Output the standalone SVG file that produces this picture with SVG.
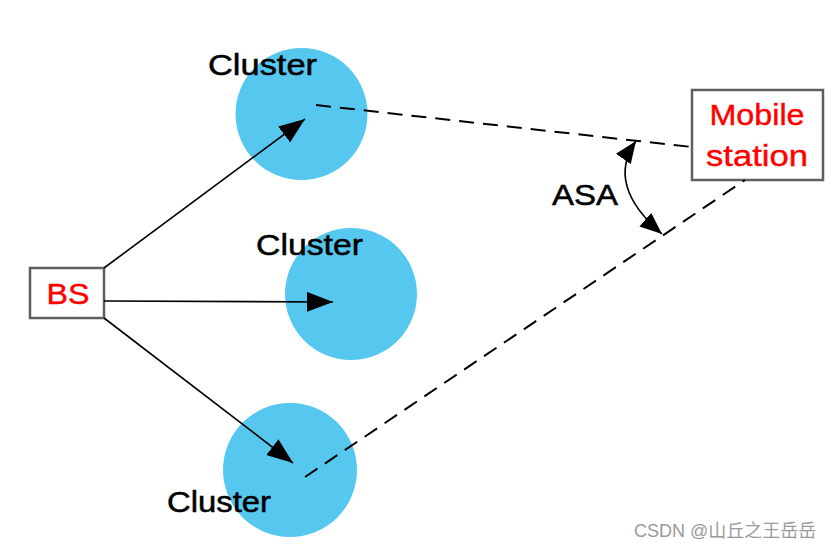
<svg xmlns="http://www.w3.org/2000/svg" width="839" height="550" viewBox="0 0 839 550">
<defs>
<style>
.cl{fill:#56C8F0}
.lbl{font-family:"Liberation Sans",Arial,sans-serif;font-size:29px;fill:#000;stroke:#000;stroke-width:0.5}
.red{font-family:"Liberation Sans",Arial,sans-serif;font-size:29px;fill:#FF0000;stroke:#FF0000;stroke-width:0.4}
.box{fill:#fff;stroke:#5f5f5f;stroke-width:2.5}
.arr{stroke:#000;stroke-width:1.6;fill:none}
.dash{stroke:#000;stroke-width:2;fill:none;stroke-dasharray:15 9}
.wm{font-family:"Liberation Sans","Noto Sans CJK SC",sans-serif;font-size:18px;fill:#9a9a9a}
</style>
<marker id="ah" markerUnits="userSpaceOnUse" markerWidth="28" markerHeight="22" refX="26" refY="10" orient="auto-start-reverse">
<path d="M0,0 L26,10 L0,20 Z" fill="#000"/>
</marker>
<marker id="ah2" markerUnits="userSpaceOnUse" markerWidth="24" markerHeight="20" refX="22" refY="9" orient="auto-start-reverse">
<path d="M0,0 L22,9 L0,18 Z" fill="#000"/>
</marker>
</defs>
<rect width="839" height="550" fill="#fff"/>
<g id="cluster-top"><circle class="cl" cx="301.5" cy="114" r="66"/><text class="lbl" x="208" y="75" textLength="109" lengthAdjust="spacingAndGlyphs">Cluster</text></g>
<g id="cluster-mid"><circle class="cl" cx="351" cy="294" r="66"/><text class="lbl" x="256" y="255" textLength="107" lengthAdjust="spacingAndGlyphs">Cluster</text></g>
<g id="cluster-bot"><circle class="cl" cx="290" cy="470" r="67"/><text class="lbl" x="167" y="512" textLength="104" lengthAdjust="spacingAndGlyphs">Cluster</text></g>
<g id="bs"><rect class="box" x="30" y="268" width="74" height="50"/><text class="red" x="68" y="304" text-anchor="middle" font-size="31" textLength="43" lengthAdjust="spacingAndGlyphs">BS</text></g>
<g id="mobile-station"><rect class="box" x="692" y="90" width="131" height="90"/><text class="red" x="757" y="125" text-anchor="middle" textLength="95" lengthAdjust="spacingAndGlyphs">Mobile</text><text class="red" x="757" y="166" text-anchor="middle" textLength="102" lengthAdjust="spacingAndGlyphs">station</text></g>
<g id="connectors">
<line class="arr" x1="104" y1="268" x2="305" y2="119" marker-end="url(#ah)"/>
<line class="arr" x1="104" y1="301" x2="333" y2="302" marker-end="url(#ah)"/>
<line class="arr" x1="104" y1="318" x2="293" y2="463" marker-end="url(#ah)"/>
<line class="dash" x1="316" y1="105" x2="692" y2="147"/>
<line class="dash" x1="305" y1="477" x2="745" y2="180"/>
<path class="arr" d="M636,141 Q605,185 662,234" marker-start="url(#ah2)" marker-end="url(#ah2)"/>
</g>
<g id="asa"><text class="lbl" x="552" y="205" textLength="66" lengthAdjust="spacingAndGlyphs">ASA</text></g>
<text class="wm" x="634" y="537">CSDN @山丘之王岳岳</text>
</svg>
